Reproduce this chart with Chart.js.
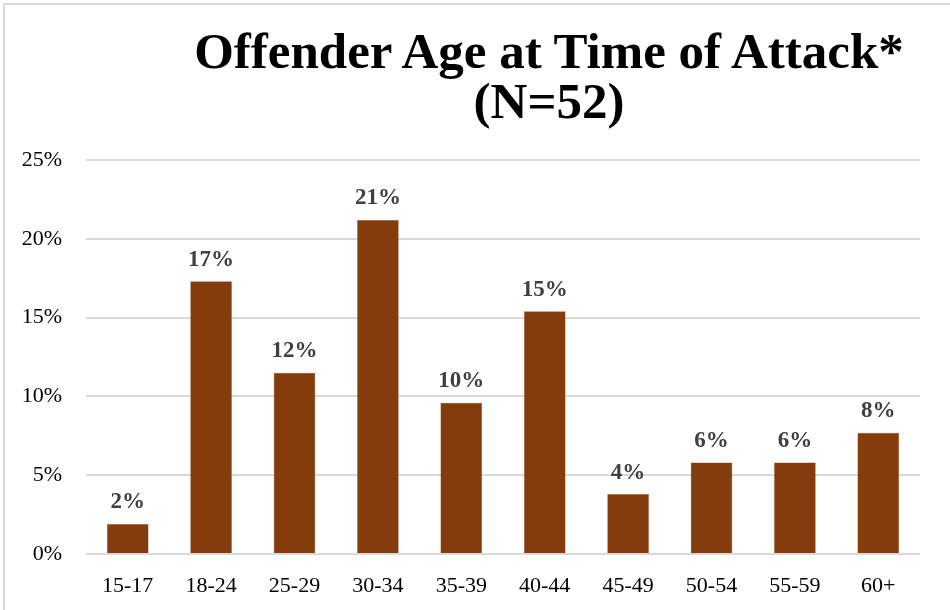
<!DOCTYPE html>
<html>
<head>
<meta charset="utf-8">
<script src="https://cdn.jsdelivr.net/npm/chart.js@4"></script>
<style>
  html, body { margin: 0; padding: 0; background: #fff; }
  #wrap { position: relative; width: 950px; height: 610px; overflow: hidden; }
  #frame { position: absolute; left: 3px; top: 3px; width: 960px; height: 620px; border: 2px solid #d9d9d9; box-sizing: border-box; }
  #title { position: absolute; left: 149px; width: 800px; top: 26px; text-align: center;
           font-family: "Liberation Serif", serif; font-weight: bold; font-size: 51px; line-height: 50px; color: #000; white-space: nowrap; }
  canvas { position: absolute; left: 0; top: 0; }
</style>
</head>
<body>
<div id="wrap">
  <div id="frame"></div>
  <div id="title">Offender Age at Time of Attack*<br>(N=52)</div>
  <canvas id="myChart" width="950" height="610"></canvas>
</div>
<script>
// 年齢区分
const ageGroups = ["15-17", "18-24", "25-29", "30-34", "35-39", "40-44", "45-49", "50-54", "55-59", "60+"];
// 割合 (%)
const shares = [1.9, 17.3, 11.5, 21.2, 9.6, 15.4, 3.8, 5.8, 5.8, 7.7];
// 縦軸の目盛り
const yTicks = [0, 5, 10, 15, 20, 25];

const barColor = '#843C0C';
const labelFont = '"Liberation Serif", serif';

// バーの上に値を表示する
const valueLabels = {
    id: 'valueLabels',
    afterDatasetsDraw: function (chart) {
        const ctx = chart.ctx;
        const meta = chart.getDatasetMeta(0);
        ctx.save();
        ctx.font = 'bold 23px ' + labelFont;
        ctx.fillStyle = '#404040';
        ctx.textAlign = 'center';
        ctx.textBaseline = 'bottom';
        meta.data.forEach(function (bar, i) {
            ctx.fillText(Math.round(shares[i]) + '%', bar.x, bar.y - 10);
        });
        ctx.restore();
    }
};

const ctx = document.getElementById('myChart').getContext('2d');
const myChart = new Chart(ctx, {
    type: 'bar',
    data: {
        labels: ageGroups,
        datasets: [{
            data: shares,
            backgroundColor: barColor,
            borderColor: '#a0603a',
            borderWidth: 0.5,
            barPercentage: 1,
            categoryPercentage: 0.5
        }]
    },
    options: {
        responsive: false,
        animation: false,
        events: [],
        layout: {
            padding: { left: 4, right: 30, top: 160, bottom: 0 }
        },
        plugins: {
            legend: { display: false },
            tooltip: { enabled: false }
        },
        scales: {
            x: {
                grid: { display: false },
                border: { display: false },
                ticks: {
                    color: '#000',
                    padding: 11,
                    font: { family: labelFont, size: 22 }
                },
                afterFit: function (axis) { axis.height = 56; }
            },
            y: {
                min: 0,
                max: 25,
                afterBuildTicks: function (axis) {
                    axis.ticks = yTicks.map(function (v) { return { value: v }; });
                },
                grid: { color: '#d9d9d9', lineWidth: 2, drawTicks: false },
                border: { display: false },
                ticks: {
                    color: '#000',
                    padding: 24,
                    font: { family: labelFont, size: 22 },
                    callback: function (v) { return v + '%'; }
                },
                afterFit: function (axis) { axis.width = 82; }
            }
        }
    },
    plugins: [valueLabels]
});
</script>
</body>
</html>
